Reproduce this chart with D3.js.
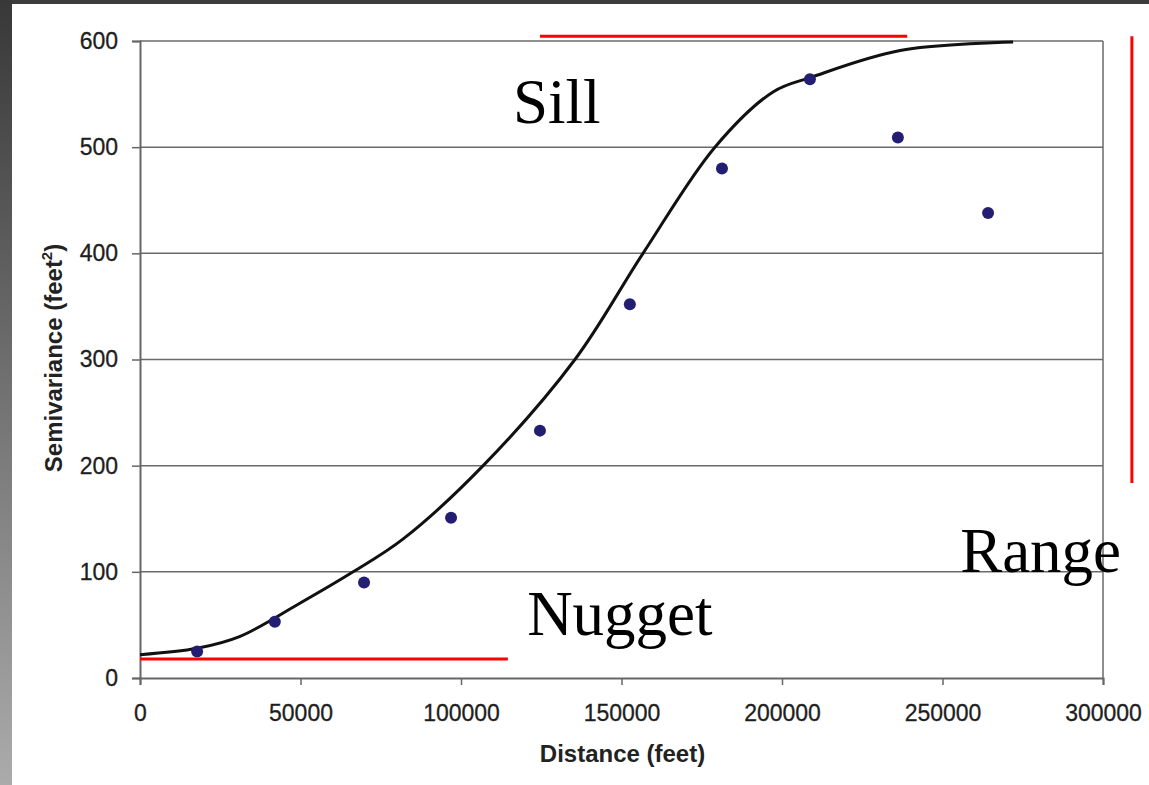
<!DOCTYPE html>
<html>
<head>
<meta charset="utf-8">
<script src="https://cdn.jsdelivr.net/npm/d3@7"></script>
<style>
  html, body { margin: 0; padding: 0; background: #fff; }
  svg { display: block; }
  .tick text { font-family: "Liberation Sans", Arial, sans-serif; fill: #1e1e1e; }
</style>
</head>
<body>
<div id="chart"></div>
<script>
// observed semivariance
const lagDistance = [17800, 42000, 69800, 96900, 124600, 152600, 181300, 208700, 236100, 264200];
const semivariance = [25, 53, 90, 151, 233, 352, 480, 564, 509, 438];

// fitted model curve
const modelDistance = [0, 17800, 31000, 49000, 66400, 82000, 106900, 135500, 156700, 179100, 197200, 209300, 236800, 272000];
const modelValue = [22, 28, 39, 69, 100, 131, 200, 300, 400, 500, 552, 566, 591, 599];

const xTicks = [0, 50000, 100000, 150000, 200000, 250000, 300000];
const yTicks = [0, 100, 200, 300, 400, 500, 600];

// red annotation lines and labels, in data units
const annotationLines = [
  { name: "sill", x1: 124600, x2: 239000, y1: 604.5, y2: 604.5 },
  { name: "range", x1: 309000, x2: 309000, y1: 604.5, y2: 183.6 },
  { name: "nugget", x1: 0, x2: 114600, y1: 17.9, y2: 17.9 }
];
const annotationLabels = [
  { text: "Sill", x: 116200, y: 522.8 },
  { text: "Nugget", x: 120600, y: 40.5 },
  { text: "Range", x: 255500, y: 99.8 }
];

const width = 1149, height = 785;
const margin = { top: 41, right: 46, bottom: 107, left: 140 };

const svg = d3.select("#chart").append("svg")
  .attr("width", width)
  .attr("height", height);

// slide frame: dark top bar, grey gradient strip on the left
const grad = svg.append("defs").append("linearGradient")
  .attr("id", "frame-grad")
  .attr("x1", 0).attr("y1", 0).attr("x2", 0).attr("y2", 1);
grad.append("stop").attr("offset", "0%").attr("stop-color", "#383838");
grad.append("stop").attr("offset", "100%").attr("stop-color", "#ababab");
svg.append("rect").attr("x", 0).attr("y", 0).attr("width", width).attr("height", 4).attr("fill", "#3c3c3c");
svg.append("rect").attr("x", 0).attr("y", 0).attr("width", 12).attr("height", height).attr("fill", "url(#frame-grad)");

const x = d3.scaleLinear().domain([0, 300000]).range([margin.left, width - margin.right]);
const y = d3.scaleLinear().domain([0, 600]).range([height - margin.bottom, margin.top]);

// horizontal gridlines
svg.append("g").attr("class", "grid")
  .selectAll("line")
  .data(yTicks.filter(d => d > 0))
  .join("line")
  .attr("x1", x(0)).attr("x2", x(300000))
  .attr("y1", d => y(d)).attr("y2", d => y(d))
  .attr("stroke", "#6a6a6a")
  .attr("stroke-width", 1.5);

// right border
svg.append("line")
  .attr("x1", x(300000)).attr("x2", x(300000))
  .attr("y1", y(0)).attr("y2", y(600))
  .attr("stroke", "#6a6a6a")
  .attr("stroke-width", 1.5);

const xAxis = svg.append("g")
  .attr("transform", `translate(0,${y(0)})`)
  .call(d3.axisBottom(x).tickValues(xTicks).tickFormat(d3.format("d")).tickSize(7).tickPadding(20));
const yAxis = svg.append("g")
  .attr("transform", `translate(${x(0)},0)`)
  .call(d3.axisLeft(y).tickValues(yTicks).tickSize(8).tickPadding(14));

[xAxis, yAxis].forEach(g => {
  g.select(".domain").attr("stroke", "#666").attr("stroke-width", 2);
  g.selectAll(".tick line").attr("stroke", "#666").attr("stroke-width", 1.5);
  g.selectAll(".tick text").attr("font-size", 23)
    .attr("stroke", "#1e1e1e").attr("stroke-width", 0.3);
});

// axis titles
svg.append("text")
  .attr("x", (x(0) + x(300000)) / 2 + 1)
  .attr("y", 762)
  .attr("text-anchor", "middle")
  .attr("font-family", "Liberation Sans, Arial, sans-serif")
  .attr("font-weight", "bold")
  .attr("font-size", 24)
  .attr("fill", "#222")
  .text("Distance (feet)");

const yTitle = svg.append("text")
  .attr("transform", "translate(62,358) rotate(-90)")
  .attr("text-anchor", "middle")
  .attr("font-family", "Liberation Sans, Arial, sans-serif")
  .attr("font-weight", "bold")
  .attr("font-size", 24)
  .attr("fill", "#222");
yTitle.append("tspan").text("Semivariance (feet");
yTitle.append("tspan").attr("font-size", 15).attr("dy", -10).text("2");
yTitle.append("tspan").attr("dy", 10).text(")");

// model curve
const line = d3.line()
  .x((d, i) => x(modelDistance[i]))
  .y(d => y(d))
  .curve(d3.curveCatmullRom.alpha(0.5));
svg.append("path")
  .datum(modelValue)
  .attr("d", line)
  .attr("fill", "none")
  .attr("stroke", "#111")
  .attr("stroke-width", 3);

// observed points
svg.append("g")
  .selectAll("circle")
  .data(semivariance)
  .join("circle")
  .attr("cx", (d, i) => x(lagDistance[i]))
  .attr("cy", d => y(d))
  .attr("r", 6)
  .attr("fill", "#231e72");

// annotations
svg.append("g")
  .selectAll("line")
  .data(annotationLines)
  .join("line")
  .attr("x1", d => x(d.x1)).attr("x2", d => x(d.x2))
  .attr("y1", d => y(d.y1)).attr("y2", d => y(d.y2))
  .attr("stroke", "#ff0000")
  .attr("stroke-width", 3);

svg.append("g")
  .selectAll("text")
  .data(annotationLabels)
  .join("text")
  .attr("x", d => x(d.x))
  .attr("y", d => y(d.y))
  .attr("font-family", "Liberation Serif, 'Times New Roman', serif")
  .attr("font-size", 63)
  .attr("fill", "#000")
  .text(d => d.text);
</script>
</body>
</html>
